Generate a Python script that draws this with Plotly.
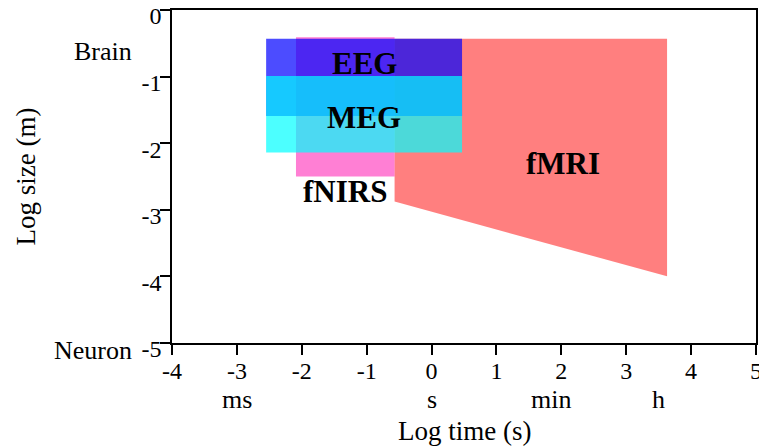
import plotly.graph_objects as go

# Axis ticks (log10 of seconds / metres)
time_ticks = [-4, -3, -2, -1, 0, 1, 2, 3, 4, 5]
size_ticks = [0, -1, -2, -3, -4, -5]

# Reference labels under the time axis and beside the size axis
unit_labels = ["ms", "s", "min", "h"]
unit_pos = [-3, 0, 1.84, 3.5]
scale_labels = ["Brain", "Neuron"]
scale_pos = [-0.62, -5]

# Spatio-temporal coverage of each imaging modality
modalities = ["fMRI", "fNIRS", "EEG", "MEG"]
t_min = [-0.57, -2.09, -2.55, -2.55]
t_max = [3.63, -0.57, 0.47, 0.47]
s_top = [-0.43, -0.41, -0.43, -0.99]
s_bottom_left = [-2.875, -2.5, -1.59, -2.14]
s_bottom_right = [-4.0, -2.5, -1.59, -2.14]
fills = ["rgba(255,0,0,0.5)", "rgba(255,0,170,0.5)",
         "rgba(0,0,255,0.7)", "rgba(0,255,255,0.7)"]
label_t = [2.03, -1.34, -1.04, -1.04]
label_s = [-2.31, -2.72, -0.80, -1.61]

SERIF = "Liberation Serif"
EPS = 1e-3  # keeps the end ticks inside the drawn range

fig = go.Figure()
for name, x0, x1, top, bl, br, col in zip(modalities, t_min, t_max, s_top,
                                          s_bottom_left, s_bottom_right, fills):
    fig.add_trace(go.Scatter(
        x=[x0, x1, x1, x0, x0],
        y=[top, top, br, bl, top],
        mode="lines", fill="toself", fillcolor=col,
        line=dict(width=0), name=name, hoverinfo="name",
    ))

annotations = []
for name, tx, sy in zip(modalities, label_t, label_s):
    annotations.append(dict(
        x=tx, y=sy, xref="x", yref="y", text=f"<b>{name}</b>",
        xanchor="center", yanchor="middle",
        showarrow=False, font=dict(family=SERIF, size=31, color="black"),
    ))
for lab, pos in zip(unit_labels, unit_pos):
    annotations.append(dict(
        x=pos, y=-5, xref="x", yref="y", yshift=-57, text=lab,
        xanchor="center", yanchor="middle",
        showarrow=False, font=dict(family=SERIF, size=26, color="black"),
    ))
for lab, pos in zip(scale_labels, scale_pos):
    annotations.append(dict(
        x=0, y=pos, xref="paper", yref="y", xanchor="right", yanchor="middle",
        xshift=-38, yshift=-8 if lab == "Neuron" else 0, text=lab,
        showarrow=False, font=dict(family=SERIF, size=26, color="black"),
    ))
annotations.append(dict(
    x=0.5, y=0, xref="paper", yref="paper", yshift=-88, text="Log time (s)",
    xanchor="center", yanchor="middle",
    showarrow=False, font=dict(family=SERIF, size=27, color="black"),
))
annotations.append(dict(
    x=0, y=0.5, xref="paper", yref="paper", xshift=-147, text="Log size (m)",
    xanchor="center", yanchor="middle", textangle=-90, showarrow=False,
    font=dict(family=SERIF, size=27, color="black"),
))

axis_common = dict(
    showgrid=False, zeroline=False, showline=True, linecolor="black",
    linewidth=1.5, mirror=True, ticks="outside", ticklen=10, tickwidth=1.5,
    tickcolor="black", tickfont=dict(family=SERIF, size=24, color="black"),
    automargin=False, ticklabeloverflow="allow",
)
fig.update_layout(
    width=759, height=448, template="none",
    margin=dict(l=172, r=3, t=10, b=105),
    paper_bgcolor="white", plot_bgcolor="white",
    showlegend=False,
    xaxis=dict(range=[-4 - EPS, 5 + EPS], tickvals=time_ticks,
               ticktext=[str(v) for v in time_ticks], ticklabelstandoff=-5,
               **axis_common),
    yaxis=dict(range=[-5 - EPS, 0 + EPS], tickvals=size_ticks,
               ticktext=[str(v) for v in size_ticks], ticklabelshift=6,
               ticklabelstandoff=-6, **axis_common),
    annotations=annotations,
)
fig.write_html("out.html")
